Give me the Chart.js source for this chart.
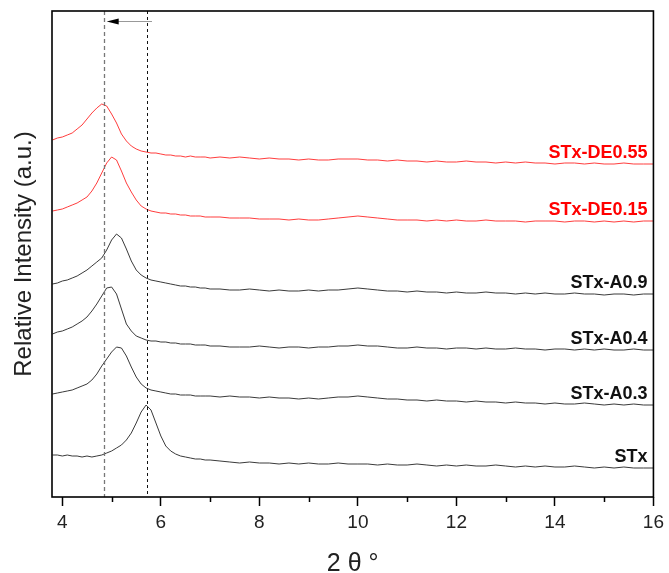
<!DOCTYPE html>
<html>
<head>
<meta charset="utf-8">
<script src="https://cdn.jsdelivr.net/npm/chart.js@4.4.1/dist/chart.umd.min.js"></script>
<style>
  html, body { margin: 0; padding: 0; background: #fff; }
  #wrap { width: 669px; height: 573px; position: relative; }
</style>
</head>
<body>
<div id="wrap"><canvas id="c" width="669" height="573"></canvas></div>
<script>
// 2θ (degrees)
const theta = [3.8,3.9,4.0,4.1,4.2,4.3,4.4,4.5,4.6,4.7,4.8,4.9,5.0,5.1,5.2,5.3,5.4,5.5,5.6,5.7,5.8,5.9,6.0,6.1,6.2,6.3,6.4,6.5,6.6,6.7,6.8,6.9,7.0,
  7.2,7.4,7.6,7.8,8.0,8.2,8.4,8.6,8.8,9.0,9.2,9.4,9.6,9.8,10.0,10.2,10.4,10.6,10.8,11.0,11.2,11.4,11.6,11.8,12.0,12.2,12.4,12.6,12.8,13.0,13.2,13.4,13.6,13.8,14.0,14.2,14.4,14.6,14.8,15.0,15.2,15.4,15.6,15.8,16.0];

// Relative intensity (offset stacked, a.u.)
const stxDE055 = [357,359,360,362,364,368,372,378,384,389,393,391,383,374,363,356,351,348,346,345,344,344,343,342,342,341,341,340,341,340,340,340,339,
  340,339,340,339,338,339,338,338,337,338,337,337,338,338,338,337,337,336,337,336,336,335,336,335,335,336,335,335,334,335,334,335,334,334,333,334,334,333,334,333,333,334,333,333,333];
const stxDE015 = [286,287,288,290,292,294,297,300,306,314,324,334,340,337,326,314,305,297,291,288,286,285,284,284,283,283,282,282,281,281,281,280,280,
  280,279,279,279,278,278,278,277,278,277,277,278,279,280,281,280,279,278,277,277,277,276,277,276,277,276,276,277,276,276,276,275,276,276,276,275,276,276,275,276,275,276,275,276,276];
const stxA09 = [213,214,216,217,219,221,224,227,231,235,239,247,257,263,259,248,236,227,222,219,217,216,215,214,213,212,211,211,210,210,209,209,208,
  208,207,207,208,207,206,207,206,206,207,206,207,207,208,209,208,207,206,206,205,206,205,205,204,205,204,204,205,204,204,203,204,203,204,203,203,204,203,203,202,203,203,202,203,203];
const stxA04 = [163,165,166,168,170,173,176,180,186,193,201,209,210,203,188,173,166,161,159,157,156,156,155,155,154,154,153,153,153,152,152,152,151,
  151,150,150,150,151,150,149,150,150,149,150,150,151,151,152,151,151,150,149,149,150,149,149,148,149,149,148,149,148,148,149,148,148,147,148,148,147,148,147,148,147,147,148,147,147];
const stxA03 = [103,104,105,106,107,109,111,113,117,123,131,138,145,150,149,141,130,120,113,109,107,106,105,104,103,103,102,102,102,101,101,101,101,
  100,101,100,100,99,100,99,99,98,99,98,99,100,100,101,100,99,98,98,97,97,96,97,96,96,95,96,95,95,94,95,94,94,93,94,93,93,94,93,92,93,92,93,92,92];
const stx = [42,42,41,42,41,41,40,41,40,41,42,44,46,49,52,57,64,74,85,92,87,74,61,51,46,43,41,40,39,38,38,37,37,
  36,35,34,35,34,34,33,34,33,34,33,33,34,33,33,33,32,33,32,32,33,32,31,32,31,32,31,31,32,31,30,31,30,31,30,30,31,30,29,30,29,30,29,29,29];

const seriesNames = ['STx-DE0.55','STx-DE0.15','STx-A0.9','STx-A0.4','STx-A0.3','STx'];
const seriesValues = [stxDE055, stxDE015, stxA09, stxA04, stxA03, stx];
const lineColors = ['rgba(255,40,40,0.9)','rgba(255,40,40,0.9)','#3a3a3a','#3a3a3a','#3a3a3a','#3a3a3a'];
const labelColors = ['#ff0000','#ff0000','#111','#111','#111','#111'];

const xTickValues = [4,5,6,7,8,9,10,11,12,13,14,15,16];
const peakShiftFrom = 5.71;   // STx peak
const peakShiftTo = 4.84;     // shifted peak
const arrowStart = 5.82, arrowTip = 4.90, arrowLevel = 476;

const datasets = seriesNames.map((name, i) => ({
  label: name,
  data: theta.map((t, k) => ({ x: t, y: seriesValues[i][k] })),
  borderColor: lineColors[i],
  borderWidth: 1,
  pointRadius: 0,
  tension: 0,
  fill: false
}));

const decor = {
  id: 'decor',
  afterDatasetsDraw(chart) {
    const { ctx, chartArea: a, scales: { x, y } } = chart;
    ctx.save();
    // dashed reference lines
    ctx.beginPath();
    ctx.setLineDash([4, 3]);
    ctx.strokeStyle = '#777';
    ctx.lineWidth = 1.3;
    const xa = Math.round(x.getPixelForValue(peakShiftTo)) + 0.5;
    ctx.moveTo(xa, a.top); ctx.lineTo(xa, a.bottom); ctx.stroke();
    ctx.beginPath();
    ctx.setLineDash([3, 3]);
    ctx.strokeStyle = '#111';
    ctx.lineWidth = 1;
    const xb = Math.round(x.getPixelForValue(peakShiftFrom)) + 0.5;
    ctx.moveTo(xb, a.top); ctx.lineTo(xb, a.bottom); ctx.stroke();
    ctx.setLineDash([]);
    // arrow
    const ay = Math.round(y.getPixelForValue(arrowLevel)) + 0.5;
    const x0 = x.getPixelForValue(arrowStart), x1 = x.getPixelForValue(arrowTip);
    ctx.beginPath();
    ctx.strokeStyle = '#999';
    ctx.lineWidth = 1;
    ctx.moveTo(x0, ay); ctx.lineTo(x1 + 10, ay); ctx.stroke();
    ctx.beginPath();
    ctx.fillStyle = '#000';
    ctx.moveTo(x1, ay); ctx.lineTo(x1 + 12, ay - 3); ctx.lineTo(x1 + 12, ay + 3); ctx.closePath(); ctx.fill();
    // series labels
    ctx.font = 'bold 18px "Liberation Sans", Arial, sans-serif';
    ctx.textAlign = 'right';
    ctx.textBaseline = 'middle';
    seriesNames.forEach((n, i) => {
      const vals = seriesValues[i];
      const py = y.getPixelForValue(vals[vals.length - 1]) - 11;
      ctx.fillStyle = labelColors[i];
      ctx.fillText(n, a.right - 6, py);
    });
    // minor ticks
    ctx.strokeStyle = '#000';
    ctx.lineWidth = 1.5;
    xTickValues.forEach(v => {
      if (v % 2 !== 0) {
        const px = Math.round(x.getPixelForValue(v)) + 0.5;
        ctx.beginPath(); ctx.moveTo(px, a.bottom); ctx.lineTo(px, a.bottom + 5); ctx.stroke();
      }
    });
    // frame
    ctx.lineWidth = 1.6;
    ctx.strokeStyle = '#000';
    ctx.strokeRect(a.left, a.top, a.right - a.left, a.bottom - a.top);
    ctx.restore();
  }
};

new Chart(document.getElementById('c'), {
  type: 'line',
  data: { datasets },
  options: {
    responsive: false,
    animation: false,
    devicePixelRatio: 1,
    layout: { padding: { top: 11, right: 12, left: 0, bottom: 0 } },
    plugins: { legend: { display: false }, tooltip: { enabled: false } },
    scales: {
      x: {
        type: 'linear',
        min: 3.79,
        max: 16,
        afterBuildTicks: s => { s.ticks = xTickValues.map(v => ({ value: v })); },
        afterFit: s => { s.height = 76; },
        border: { display: false },
        grid: {
          display: true, drawOnChartArea: false, drawTicks: true, tickLength: 9, tickWidth: 1.5,
          tickColor: c => (c.tick && c.tick.value % 2 === 0) ? '#000' : 'rgba(0,0,0,0)'
        },
        ticks: {
          autoSkip: false, maxRotation: 0, padding: 5, color: '#222',
          font: { size: 19, family: '"Liberation Sans", Arial, sans-serif' },
          callback: v => (v % 2 === 0 ? String(v) : '')
        },
        title: {
          display: true, text: '2 θ °', color: '#222',
          font: { size: 25, lineHeight: 1, family: '"Liberation Sans", Arial, sans-serif' },
          padding: { top: 0, bottom: -4 }
        }
      },
      y: {
        min: 0,
        max: 486,
        afterFit: s => { s.width = 52; },
        border: { display: false },
        grid: { display: false },
        ticks: { display: false },
        title: {
          display: true, text: 'Relative Intensity (a.u.)', color: '#222',
          font: { size: 24, family: '"Liberation Sans", Arial, sans-serif' },
          padding: { top: 10, bottom: 0 }
        }
      }
    }
  },
  plugins: [decor]
});
</script>
</body>
</html>
